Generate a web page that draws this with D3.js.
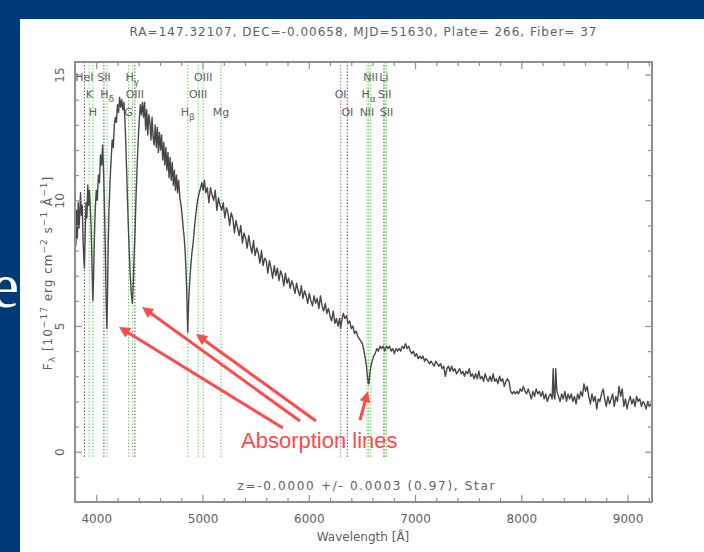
<!DOCTYPE html>
<html><head><meta charset="utf-8">
<script src="https://cdn.jsdelivr.net/npm/d3@7"></script>
<style>
html,body{margin:0;padding:0;background:#003a78;}
svg{display:block;}
</style></head><body>
<svg id="chart" width="704" height="552"></svg>
<script>
// ---- Spectrum (wavelength in Angstrom, flux in 1e-17 erg/cm2/s/A) ----
const wave = [
 3800,3808,3815,3822,3830,3838,3845,3852,3860,3868,3876,3884,3889,3896,3904,3912,3920,3928,3936,3944,
 3952,3960,3968,3974,3982,3990,4000,4010,4020,4030,4040,4050,4060,4070,4080,4088,4095,4100,4106,4113,
 4120,4130,4140,4150,4160,4170,4180,4190,4200,4210,4220,4230,4240,4250,4260,4270,4280,4290,4300,4310,
 4320,4330,4340,4347,4355,4365,4375,4385,4395,4405,4415,4425,4435,4445,4455,4465,4475,4485,4495,4505,
 4515,4525,4535,4545,4555,4565,4575,4585,4595,4605,4615,4625,4635,4645,4655,4665,4675,4685,4695,4705,
 4715,4725,4735,4745,4755,4765,4775,4787,4798,4808,4818,4828,4836,4844,4851,4856,4861,4866,4872,4880,
 4890,4900,4912,4924,4936,4947,4958,4970,4982,4994,5006,5018,5030,5045,5060,5075,5090,5105,5120,5135,
 5150,5165,5180,5195,5210,5225,5240,5255,5270,5285,5300,5315,5330,5345,5360,5375,5390,5405,5420,5435,
 5450,5465,5480,5495,5510,5525,5540,5555,5570,5585,5600,5615,5630,5645,5660,5675,5690,5705,5720,5735,
 5750,5765,5780,5795,5810,5825,5840,5855,5870,5885,5900,5915,5930,5945,5960,5975,5990,6005,6020,6035,
 6050,6065,6080,6095,6110,6125,6140,6155,6170,6185,6200,6215,6230,6245,6260,6275,6290,6300,6310,6325,
 6340,6355,6370,6385,6400,6415,6430,6445,6460,6475,6490,6505,6520,6532,6543,6552,6560,6566,6574,6585,
 6597,6610,6625,6640,6655,6670,6685,6700,6715,6730,6745,6760,6775,6790,6805,6820,6835,6850,6865,6880,
 6895,6910,6925,6940,6955,6970,6985,7000,7015,7030,7045,7060,7075,7090,7105,7120,7135,7150,7165,7180,
 7195,7210,7225,7240,7255,7270,7285,7300,7315,7330,7345,7360,7375,7390,7405,7420,7435,7450,7465,7480,
 7495,7510,7525,7540,7555,7570,7585,7600,7615,7630,7645,7660,7675,7690,7705,7720,7735,7750,7765,7780,
 7795,7810,7825,7840,7855,7870,7885,7900,7915,7930,7945,7960,7975,7990,8005,8020,8035,8050,8065,8080,
 8095,8110,8125,8140,8155,8170,8185,8200,8215,8230,8245,8260,8275,8290,8300,8308,8316,8324,8335,8350,
 8365,8380,8395,8410,8425,8440,8455,8470,8485,8500,8515,8530,8545,8560,8575,8590,8605,8620,8635,8650,
 8665,8680,8695,8710,8725,8740,8755,8770,8785,8800,8815,8830,8845,8860,8875,8890,8905,8920,8935,8950,
 8965,8980,8995,9010,9025,9040,9055,9070,9085,9100,9115,9130,9145,9160,9175,9190,9205,9220
];
const flux = [
 9.1,8.2,9.6,8.5,9.9,8.9,9.5,10.3,9.4,9.8,8.4,7.6,7.3,8.7,9.9,9.3,10.6,9.8,10.4,9.7,
 8.9,7.4,6.0,6.8,8.4,9.6,10.4,10.0,11.0,10.7,11.8,11.4,12.2,11.0,9.2,7.4,5.6,4.9,6.2,8.3,
 9.6,10.8,11.6,12.4,12.1,13.0,13.3,13.1,13.8,13.5,14.1,13.7,14.0,13.6,13.9,13.2,12.0,10.6,9.2,8.0,
 7.0,6.3,5.9,6.5,7.6,8.8,10.2,11.4,12.4,13.2,13.8,13.4,13.9,13.3,13.9,12.8,13.6,12.6,13.4,13.1,
 12.4,13.3,12.5,12.2,13.0,12.1,12.9,11.9,12.7,12.0,12.6,11.6,12.3,11.4,12.1,11.2,11.9,10.9,11.7,10.8,
 11.5,10.6,11.2,10.4,11.0,10.3,10.8,10.1,9.8,9.4,8.9,8.5,8.0,7.3,6.5,5.6,4.75,5.5,6.2,6.8,
 7.4,7.9,8.3,8.9,9.4,9.8,10.1,10.3,10.5,10.7,10.4,10.8,10.3,10.5,9.9,10.5,10.2,10.0,10.4,9.6,
 10.1,9.8,9.6,9.9,9.3,9.7,9.5,9.0,9.5,9.3,8.7,9.2,8.9,8.6,9.0,8.3,8.7,8.5,8.1,8.6,
 8.2,7.9,8.4,7.8,8.1,7.9,7.5,8.0,7.4,7.7,7.6,7.1,7.6,7.3,6.9,7.4,7.0,7.3,6.8,7.2,
 7.0,6.6,7.1,6.7,6.9,6.5,6.8,6.6,6.3,6.7,6.4,6.2,6.6,6.1,6.4,6.2,5.9,6.3,6.0,5.8,
 6.2,5.9,6.1,5.7,6.2,5.8,5.6,5.9,5.5,5.7,5.4,5.2,5.6,5.1,5.3,5.0,5.3,4.9,5.2,5.5,
 5.3,5.4,5.1,5.2,4.9,5.0,4.7,4.8,4.6,4.5,4.4,4.3,4.0,3.7,3.4,3.0,2.7,2.7,3.1,3.4,
 3.6,3.8,3.9,4.1,4.0,4.2,4.1,4.2,4.0,4.2,4.1,4.2,4.0,4.1,3.9,4.1,4.0,4.1,4.0,4.2,
 4.1,4.3,4.1,4.2,4.0,3.9,4.0,3.8,3.9,3.7,3.8,3.7,3.8,3.6,3.7,3.6,3.5,3.6,3.5,3.4,
 3.6,3.5,3.4,3.5,3.3,3.4,3.0,3.3,3.4,3.2,3.4,3.2,3.3,3.1,3.2,3.3,3.1,3.2,3.0,3.2,
 3.1,3.3,3.0,3.1,2.9,3.1,2.9,3.2,2.9,3.0,2.8,3.1,2.9,2.8,3.0,2.8,3.1,2.8,2.9,2.7,
 3.0,2.8,2.9,2.6,2.8,2.9,2.8,2.4,2.3,2.4,2.3,2.4,2.3,2.5,2.4,2.6,2.4,2.3,2.5,2.3,
 2.1,2.4,2.2,2.5,2.3,2.4,2.2,2.4,2.1,2.3,2.0,2.2,2.3,2.1,3.3,2.2,2.1,3.3,2.4,2.2,
 2.0,2.3,2.1,2.4,2.0,2.3,2.1,2.3,2.0,2.2,1.9,2.3,2.1,2.4,2.2,2.7,2.4,2.6,2.2,1.9,
 2.3,2.0,2.2,1.7,2.1,2.0,2.3,2.5,2.1,1.8,2.2,1.9,2.1,2.3,1.8,2.2,2.0,2.6,2.2,2.5,
 1.8,2.1,1.7,2.0,2.2,1.9,2.1,1.8,2.2,2.0,2.1,1.8,2.0,1.9,1.7,2.0,1.8,1.9
];

// ---- Spectral line markers ----
const lineWave = [3889,3934,3969,4072,4102,4304,4340,4363,4861,4959,5007,5175,6300,6363,6548,6563,6583,6707,6716,6731];
const lineName = ["HeI","K","H","SII","H_δ","G","H_γ","OIII","H_β","OIII","OIII","Mg","OI","OI","NII","H_α","NII","Li","SII","SII"];
const lineRow  = [1,2,3,1,2,3,1,2,3,2,1,3,2,3,3,2,1,1,2,3];
const lineKind = ["b","g","g","b","g","g","g","b","g","g","g","g","m","b","g","g","g","b","g","g"];

// ---- Axes ----
const xTicks = [4000,5000,6000,7000,8000,9000];
const yTicks = [0,5,10,15];
const xDomain = [3800, 9230];
const yDomain = [-2, 15.5];

// ---- Annotation arrows: tail (wavelength, flux) -> head (wavelength, flux) ----
const arrowTail = [[5757,0.94],[5917,1.22],[6068,1.22],[6482,1.26]];
const arrowHead = [[4214,4.96],[4431,5.76],[4939,4.68],[6557,2.41]];

const titleText = "RA=147.32107, DEC=-0.00658, MJD=51630, Plate= 266, Fiber= 37";
const fitText = "z=-0.0000 +/- 0.0003 (0.97), Star";

const svg = d3.select("#chart");
const font = "DejaVu Sans";
const txt = "#606060";
const axisCol = "#8e8e8e";

// slide backdrop with a fragment of its white serif heading
svg.append("rect").attr("width",704).attr("height",552).attr("fill","#003a78");
svg.append("text").attr("x",19).attr("y",307).attr("text-anchor","end")
  .attr("font-family","Liberation Serif").attr("font-size",63).attr("fill","#fff").text("e");
svg.append("rect").attr("x",20).attr("y",19).attr("width",684).attr("height",533).attr("fill","#fff");

const L = 75, R = 652, T = 62, B = 502;
const x = d3.scaleLinear().domain(xDomain).range([L, R]);
const y = d3.scaleLinear().domain(yDomain).range([B, T]);

svg.append("defs").append("clipPath").attr("id","plotclip")
  .append("rect").attr("x",L).attr("y",T).attr("width",R-L).attr("height",B-T);

// title
svg.append("text").attr("x",363).attr("y",36).attr("text-anchor","middle")
  .attr("font-family",font).attr("font-size",12).attr("fill",txt)
  .attr("textLength",467).attr("lengthAdjust","spacing").text(titleText);

// line markers
const kindColor = {g:"#3ed63e", b:"#444", m:"#c23cc2"};
const markers = svg.append("g").attr("clip-path","url(#plotclip)");
lineWave.forEach((w,i) => {
  markers.append("line")
    .attr("x1",x(w)).attr("x2",x(w)).attr("y1",y(yDomain[1])).attr("y2",y(-0.25))
    .attr("stroke",kindColor[lineKind[i]]).attr("stroke-width",1.1)
    .attr("stroke-dasharray","1.2,2");
});
const rowY = {1:81, 2:98, 3:116};
lineWave.forEach((w,i) => {
  const parts = lineName[i].split("_");
  const t = svg.append("text").attr("x",x(w)).attr("y",rowY[lineRow[i]])
    .attr("text-anchor","middle").attr("font-family",font).attr("font-size",11).attr("fill",txt);
  t.append("tspan").text(parts[0]);
  if (parts[1]) t.append("tspan").attr("dy",4).attr("font-size",9).text(parts[1]);
});

// spectrum
svg.append("path")
  .datum(d3.range(wave.length))
  .attr("clip-path","url(#plotclip)")
  .attr("fill","none").attr("stroke","#474747").attr("stroke-width",1.4).attr("stroke-linejoin","round")
  .attr("d", d3.line().x(i => x(wave[i])).y(i => y(flux[i])));

// axes (ticks point inward, box style)
function style(g){
  g.select(".domain").remove();
  g.selectAll("line").attr("stroke",axisCol).attr("stroke-width",1.2);
  g.selectAll("text").attr("fill",txt).attr("font-family",font).attr("font-size",12);
}
const xMinor = d3.range(3800, 9230, 200).filter(v => v % 1000 !== 0);
const yMinor = d3.range(-2, 16, 1).filter(v => v % 5 !== 0);

svg.append("g").attr("transform",`translate(0,${B})`)
  .call(d3.axisBottom(x).tickValues(xTicks).tickSize(-7).tickPadding(12).tickFormat(d3.format("d"))).call(style);
svg.append("g").attr("transform",`translate(0,${B})`)
  .call(d3.axisBottom(x).tickValues(xMinor).tickSize(-4).tickFormat("")).call(style);
svg.append("g").attr("transform",`translate(0,${T})`)
  .call(d3.axisTop(x).tickValues(xTicks).tickSize(-7).tickFormat("")).call(style);
svg.append("g").attr("transform",`translate(0,${T})`)
  .call(d3.axisTop(x).tickValues(xMinor).tickSize(-4).tickFormat("")).call(style);

const gl = svg.append("g").attr("transform",`translate(${L},0)`)
  .call(d3.axisLeft(y).tickValues(yTicks).tickSize(-7).tickFormat(d3.format("d"))).call(style);
gl.selectAll(".tick text").attr("x",0).attr("dy","0.35em").attr("text-anchor","middle")
  .attr("transform","translate(-15,0) rotate(-90)");
svg.append("g").attr("transform",`translate(${L},0)`)
  .call(d3.axisLeft(y).tickValues(yMinor).tickSize(-4).tickFormat("")).call(style);
svg.append("g").attr("transform",`translate(${R},0)`)
  .call(d3.axisRight(y).tickValues(yTicks).tickSize(-7).tickFormat("")).call(style);
svg.append("g").attr("transform",`translate(${R},0)`)
  .call(d3.axisRight(y).tickValues(yMinor).tickSize(-4).tickFormat("")).call(style);

svg.append("rect").attr("x",L).attr("y",T).attr("width",R-L).attr("height",B-T)
  .attr("fill","none").attr("stroke",axisCol).attr("stroke-width",2);

// axis titles
svg.append("text").attr("x",363).attr("y",541).attr("text-anchor","middle")
  .attr("font-family",font).attr("font-size",12).attr("fill",txt).text("Wavelength [Å]");

const yt = svg.append("text").attr("transform","translate(52,273) rotate(-90)")
  .attr("text-anchor","middle").attr("font-family",font).attr("font-size",12).attr("fill",txt)
  .attr("letter-spacing",1);
yt.append("tspan").text("F");
yt.append("tspan").attr("dy",3).attr("font-size",9).text("λ");
yt.append("tspan").attr("dy",-3).text(" [10");
yt.append("tspan").attr("dy",-5).attr("font-size",9).text("−17");
yt.append("tspan").attr("dy",5).text(" erg cm");
yt.append("tspan").attr("dy",-5).attr("font-size",9).text("−2");
yt.append("tspan").attr("dy",5).text(" s");
yt.append("tspan").attr("dy",-5).attr("font-size",9).text("−1");
yt.append("tspan").attr("dy",5).text(" Å");
yt.append("tspan").attr("dy",-5).attr("font-size",9).text("−1");
yt.append("tspan").attr("dy",5).text("]");

// redshift fit note
svg.append("text").attr("x",366).attr("y",490).attr("text-anchor","middle")
  .attr("font-family",font).attr("font-size",12).attr("fill",txt)
  .attr("textLength",257).attr("lengthAdjust","spacing").text(fitText);

// "Absorption lines" call-out
const red = "#ff4a4a";
svg.select("defs").append("marker").attr("id","ah")
  .attr("viewBox","0 0 10 10").attr("refX",10).attr("refY",5)
  .attr("markerWidth",15).attr("markerHeight",11).attr("markerUnits","userSpaceOnUse")
  .attr("orient","auto")
  .append("path").attr("d","M0,0 L10,5 L0,10 z").attr("fill",red);
arrowTail.forEach((t,i) => {
  const x1 = x(t[0]), y1 = y(t[1]);
  const hx = x(arrowHead[i][0]), hy = y(arrowHead[i][1]);
  const len = Math.hypot(hx-x1, hy-y1);
  const ux = (hx-x1)/len, uy = (hy-y1)/len;
  svg.append("line").attr("x1",x1).attr("y1",y1)
    .attr("x2",hx-ux*0.01).attr("y2",hy-uy*0.01)
    .attr("stroke",red).attr("stroke-width",3).attr("stroke-dasharray",`${len-10},100`)
    .attr("marker-end","url(#ah)");
});
svg.append("text").attr("x",241).attr("y",448)
  .attr("font-family","Liberation Sans").attr("font-size",22).attr("fill",red)
  .text("Absorption lines");
</script></body></html>
